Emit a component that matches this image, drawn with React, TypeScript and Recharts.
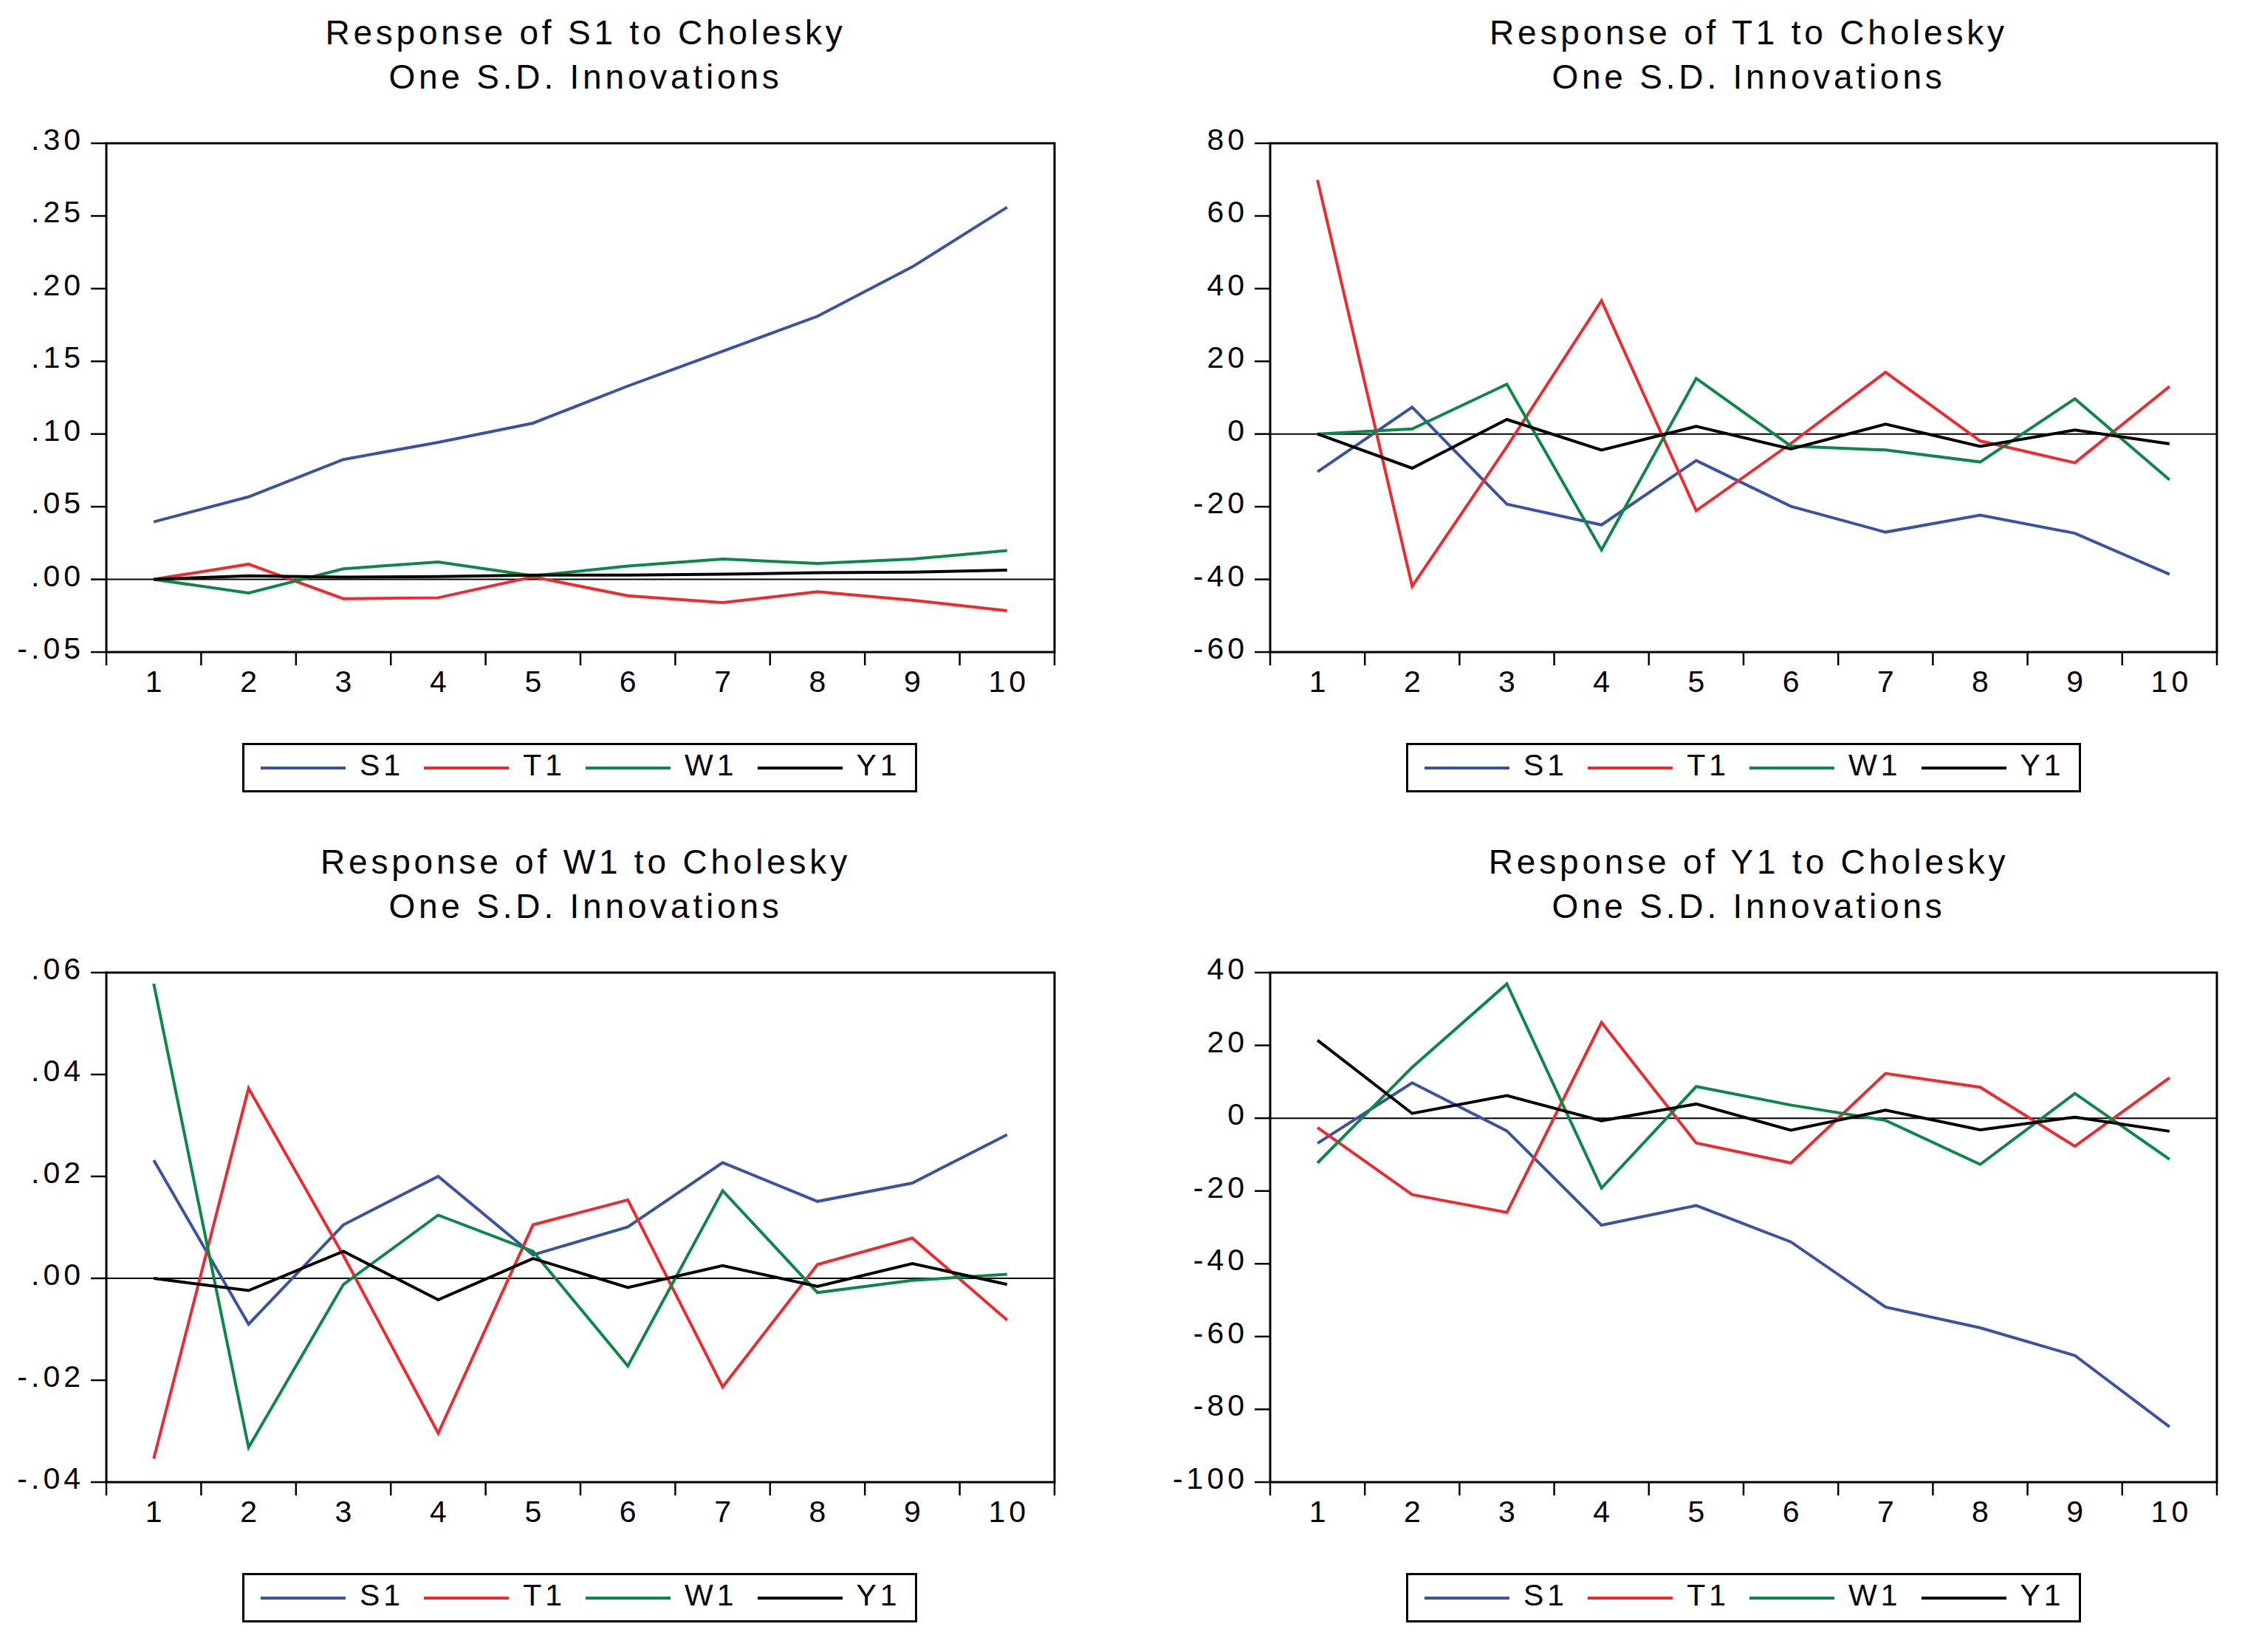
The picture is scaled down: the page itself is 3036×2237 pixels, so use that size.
import React from 'react';
import { LineChart, Line, XAxis, YAxis, ReferenceLine, ReferenceArea } from 'recharts';

// ---------- data ----------
const horizons = [1, 2, 3, 4, 5, 6, 7, 8, 9, 10];
const seriesNames = ['S1', 'T1', 'W1', 'Y1'];
const seriesColors = ['#3A52A2', '#EC2A30', '#0B8746', '#000000'];

// Response of S1
const respS1_S1 = [0.0396, 0.0568, 0.0825, 0.0943, 0.1075, 0.133, 0.157, 0.181, 0.215, 0.256];
const respS1_T1 = [0, 0.0105, -0.0133, -0.0126, 0.0018, -0.0113, -0.016, -0.0085, -0.0143, -0.0215];
const respS1_W1 = [0, -0.0093, 0.0073, 0.012, 0.0024, 0.0092, 0.014, 0.011, 0.014, 0.0198];
const respS1_Y1 = [0, 0.0025, 0.0016, 0.002, 0.003, 0.003, 0.0036, 0.0046, 0.005, 0.0064];

// Response of T1
const respT1_S1 = [-10.4, 7.4, -19.3, -25, -7.3, -19.9, -27, -22.3, -27.3, -38.6];
const respT1_T1 = [69.9, -41.9, -3.5, 36.7, -21.1, -2.6, 17, -1.9, -7.9, 13.1];
const respT1_W1 = [0, 1.4, 13.7, -31.9, 15.3, -3.3, -4.4, -7.7, 9.7, -12.6];
const respT1_Y1 = [0, -9.4, 4, -4.4, 2.1, -4.1, 2.7, -3.4, 1.1, -2.7];

// Response of W1
const respW1_S1 = [0.0232, -0.009, 0.0105, 0.02, 0.0046, 0.0101, 0.0227, 0.0151, 0.0187, 0.0282];
const respW1_T1 = [-0.0354, 0.0373, 0.0045, -0.0304, 0.0105, 0.0154, -0.0213, 0.0027, 0.0079, -0.0082];
const respW1_W1 = [0.0578, -0.0332, -0.0012, 0.0124, 0.0053, -0.0172, 0.0172, -0.0028, -0.0004, 0.0008];
const respW1_Y1 = [0, -0.0024, 0.0053, -0.0042, 0.0039, -0.0018, 0.0025, -0.0016, 0.0029, -0.0012];

// Response of Y1
const respY1_S1 = [-6.9, 9.7, -3.5, -29.4, -24, -34, -51.9, -57.6, -65.2, -84.8];
const respY1_T1 = [-2.6, -21, -25.9, 26.3, -6.8, -12.3, 12.3, 8.5, -7.7, 11.1];
const respY1_W1 = [-12.3, 14, 36.9, -19.2, 8.7, 3.6, -0.6, -12.7, 6.8, -11.3];
const respY1_Y1 = [21.4, 1.3, 6.2, -0.7, 3.9, -3.3, 2.2, -3.2, 0.3, -3.6];

// tick values
const yTicksS1 = [-0.05, 0, 0.05, 0.1, 0.15, 0.2, 0.25, 0.3];
const yTicksT1 = [-60, -40, -20, 0, 20, 40, 60, 80];
const yTicksW1 = [-0.04, -0.02, 0, 0.02, 0.04, 0.06];
const yTicksY1 = [-100, -80, -60, -40, -20, 0, 20, 40];

const titleLine2 = 'One S.D. Innovations';
const titlesLine1 = [
  'Response of S1 to Cholesky',
  'Response of T1 to Cholesky',
  'Response of W1 to Cholesky',
  'Response of Y1 to Cholesky',
];

// ---------- layout ----------
const FONT = '"Liberation Sans", Arial, Helvetica, sans-serif';
const PW = 1518;
const PH = 1118;
const AX = 100;

const decFmt = (v: number) => {
  const s = v.toFixed(2);
  return s.replace(/^(-?)0\./, '$1.');
};
const intFmt = (v: number) => String(Math.round(v));

const xTicks = [horizons[0] - 0.5, ...horizons.flatMap((h) => [h, h + 0.5])];

type Cfg = {
  px: number; py: number; L: number; T: number; R: number; B: number;
  title: string; series: number[][]; ticks: number[]; fmt: (v: number) => string;
};

const panels: Cfg[] = [
  { px: 0, py: 0, L: 144, T: 194, R: 1428, B: 883, title: titlesLine1[0],
    series: [respS1_S1, respS1_T1, respS1_W1, respS1_Y1], ticks: yTicksS1, fmt: decFmt },
  { px: PW, py: 0, L: 1720, T: 194, R: 3002, B: 883, title: titlesLine1[1],
    series: [respT1_S1, respT1_T1, respT1_W1, respT1_Y1], ticks: yTicksT1, fmt: intFmt },
  { px: 0, py: PH, L: 144, T: 1317, R: 1428, B: 2007, title: titlesLine1[2],
    series: [respW1_S1, respW1_T1, respW1_W1, respW1_Y1], ticks: yTicksW1, fmt: decFmt },
  { px: PW, py: PH, L: 1720, T: 1317, R: 3002, B: 2007, title: titlesLine1[3],
    series: [respY1_S1, respY1_T1, respY1_W1, respY1_Y1], ticks: yTicksY1, fmt: intFmt },
];

const XTick = (props: any) => {
  const { x, y, payload } = props;
  const v = payload.value;
  if (Number.isInteger(v)) {
    return (
      <text x={x + 2.5} y={y + 54} textAnchor="middle" fill="#000"
        style={{ fontFamily: FONT, fontSize: 41, letterSpacing: 5 }}>
        {v}
      </text>
    );
  }
  return <line x1={x} x2={x} y1={y} y2={y + 18} stroke="#000" strokeWidth={2.5} />;
};

const makeYTick = (fmt: (v: number) => string) => (props: any) => {
  const { x, y, payload } = props;
  return (
    <text x={x - 9} y={y + 9} textAnchor="end" fill="#000"
      style={{ fontFamily: FONT, fontSize: 41, letterSpacing: 5 }}>
      {fmt(payload.value)}
    </text>
  );
};

function Panel({ cfg }: { cfg: Cfg }) {
  const data = horizons.map((h, i) => {
    const row: any = { h };
    seriesNames.forEach((n, k) => { row[n] = cfg.series[k][i]; });
    return row;
  });
  const margin = {
    left: cfg.L - cfg.px - AX,
    top: cfg.T - cfg.py,
    right: cfg.px + PW - cfg.R,
    bottom: cfg.py + PH - cfg.B - AX,
  };
  const yMin = cfg.ticks[0];
  const yMax = cfg.ticks[cfg.ticks.length - 1];
  const center = (cfg.L + cfg.R) / 2 - cfg.px + 7;
  return (
    <div style={{ position: 'absolute', left: cfg.px, top: cfg.py, width: PW, height: PH }}>
      <div style={{
        position: 'absolute', left: center - 600, width: 1200, top: cfg.T - cfg.py - 180,
        textAlign: 'center', fontFamily: FONT, fontSize: 46, letterSpacing: 4.8,
        lineHeight: '60px', color: '#000', whiteSpace: 'nowrap',
      }}>
        <div>{cfg.title}</div>
        <div>{titleLine2}</div>
      </div>
      <LineChart width={PW} height={PH} margin={margin} data={data}>
        <XAxis dataKey="h" type="number" domain={[0.5, 10.5]} ticks={xTicks} interval={0}
          tickSize={0} tickMargin={0} axisLine={false} tickLine={false} height={AX}
          tick={(p: any) => <XTick {...p} />} allowDataOverflow />
        <YAxis type="number" domain={[yMin, yMax]} ticks={cfg.ticks} interval={0} width={AX}
          tickSize={21} tickMargin={0} axisLine={false}
          tickLine={{ stroke: '#000', strokeWidth: 2.5 }}
          tick={makeYTick(cfg.fmt)} allowDataOverflow />
        <ReferenceLine y={0} stroke="#000" strokeWidth={2} />
        {seriesNames.map((n, k) => (
          <Line key={n} dataKey={n} type="linear" stroke={seriesColors[k]} strokeWidth={4}
            dot={false} activeDot={false} isAnimationActive={false} />
        ))}
        <ReferenceArea x1={0.5} x2={10.5} y1={yMin} y2={yMax} fill="none" fillOpacity={0}
          stroke="#000" strokeWidth={3} />
      </LineChart>
      <div style={{
        position: 'absolute', left: cfg.L - cfg.px + 184, top: cfg.B - cfg.py + 123,
        width: 914, height: 67, boxSizing: 'border-box', border: '3px solid #000',
        display: 'flex', alignItems: 'center', paddingLeft: 22,
        fontFamily: FONT, fontSize: 41, letterSpacing: 5, color: '#000', background: '#fff',
      }}>
        {seriesNames.map((n, k) => (
          <div key={n} style={{ display: 'flex', alignItems: 'center', marginRight: 27 }}>
            <svg width={115} height={8} style={{ display: 'block' }}>
              <line x1={0} x2={115} y1={4} y2={4} stroke={seriesColors[k]} strokeWidth={4} />
            </svg>
            <span style={{ marginLeft: 19, lineHeight: '40px', position: 'relative', top: -4 }}>{n}</span>
          </div>
        ))}
      </div>
    </div>
  );
}

export default function App() {
  return (
    <div style={{ position: 'absolute', left: 0, top: 0, width: 3036, height: 2237, background: '#fff' }}>
      {panels.map((cfg, i) => <Panel key={i} cfg={cfg} />)}
    </div>
  );
}
